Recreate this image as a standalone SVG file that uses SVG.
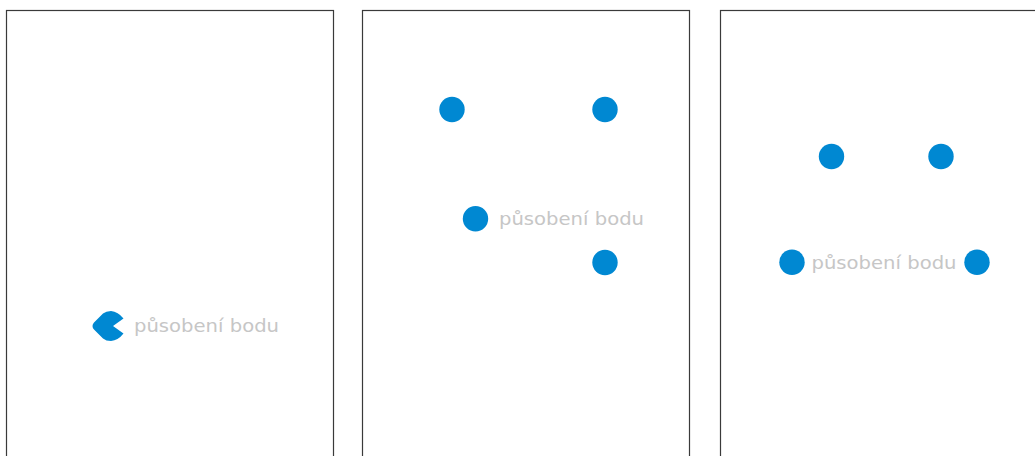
<svg xmlns="http://www.w3.org/2000/svg" width="1035" height="456" viewBox="0 0 1035 456">
  <style>
    .panel { fill: #ffffff; stroke: #3a3a3a; stroke-width: 1.2; }
    .dot { fill: #0088d2; }
    .lbl { fill: #c6c6c6; font-family: "DejaVu Sans", "Liberation Sans", sans-serif; font-size: 17px; }
  </style>
  <rect width="1035" height="456" fill="#ffffff"/>
  <g id="panel1">
    <rect class="panel" x="6.5" y="10.5" width="327" height="470"/>
    <g id="pacman">
      <path class="dot" d="M92.5,326 Q92.5,324 94,322.5 L103,313.5 Q106,311 111,311 Q118,311.5 123.5,318.5 L113,326 L123.5,333.5 Q118,340.5 111,341 Q106,341 103,338.5 L94,329.5 Q92.5,328 92.5,326 Z"/>
    </g>
    <text class="lbl" x="134" y="332" textLength="145" lengthAdjust="spacingAndGlyphs">působení bodu</text>
  </g>
  <g id="panel2">
    <rect class="panel" x="362.5" y="10.5" width="327" height="470"/>
    <circle id="p2a" class="dot" cx="452" cy="109.5" r="12.7"/>
    <circle id="p2b" class="dot" cx="605" cy="109.5" r="12.7"/>
    <circle id="p2c" class="dot" cx="475.5" cy="218.8" r="12.7"/>
    <circle id="p2d" class="dot" cx="605" cy="262.5" r="12.7"/>
    <text class="lbl" x="499" y="224.5" textLength="145" lengthAdjust="spacingAndGlyphs">působení bodu</text>
  </g>
  <g id="panel3">
    <rect class="panel" x="720.5" y="10.5" width="327" height="470"/>
    <circle id="p3a" class="dot" cx="831.5" cy="156.5" r="12.7"/>
    <circle id="p3b" class="dot" cx="941" cy="156.5" r="12.7"/>
    <circle id="p3c" class="dot" cx="792" cy="262.2" r="12.7"/>
    <circle id="p3d" class="dot" cx="977" cy="262.2" r="12.7"/>
    <text class="lbl" x="811.5" y="268.5" textLength="145" lengthAdjust="spacingAndGlyphs">působení bodu</text>
  </g>
  <g id="connectors"></g>
</svg>
